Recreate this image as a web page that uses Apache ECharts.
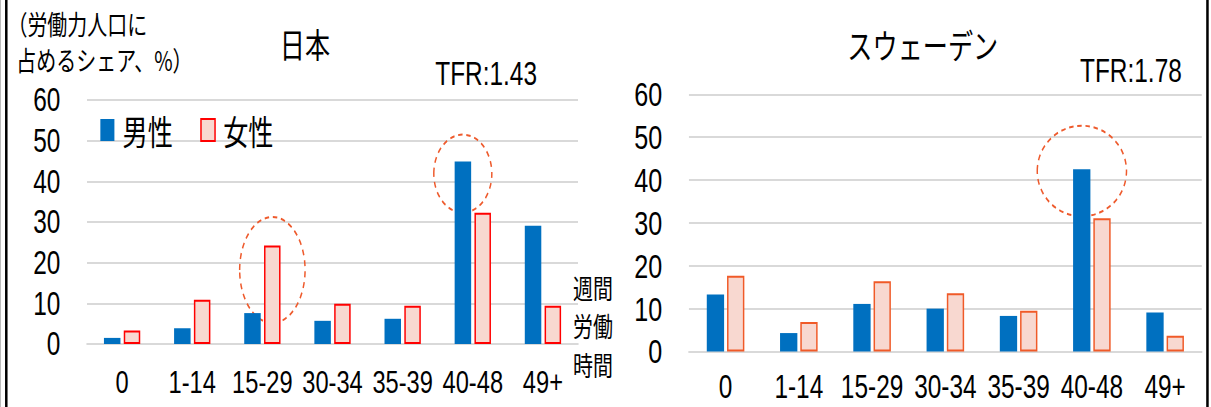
<!DOCTYPE html>
<html>
<head>
<meta charset="utf-8">
<script src="https://cdn.jsdelivr.net/npm/echarts@6/dist/echarts.min.js"></script>
<style>
html,body{margin:0;padding:0;background:#fff;overflow:hidden;width:1211px;height:407px;}
#wrap{width:1637px;height:407px;transform:scaleX(0.74);transform-origin:0 0;}
#main{width:1637px;height:407px;}
</style>
</head>
<body>
<div id="wrap"><div id="main"></div></div>
<script>
// ---- data ----
const categories = ['0', '1-14', '15-29', '30-34', '35-39', '40-48', '49+'];
const japanMen   = [1.5, 3.9, 7.6, 5.7, 6.2, 44.9, 29.1];
const japanWomen = [3.3, 10.9, 24.2, 9.9, 9.4, 32.3, 9.4];
const swedenMen   = [13.3, 4.3, 11.1, 10.0, 8.3, 42.5, 9.1];
const swedenWomen = [17.7, 6.9, 16.4, 13.6, 9.5, 31.1, 3.7];
const seriesNames = ['男性', '女性'];
const titleJapan = '日本';
const titleSweden = 'スウェーデン';
const tfrJapan = 'TFR:1.43';
const tfrSweden = 'TFR:1.78';
const yAxisTitle = ['（労働力人口に', '占めるシェア、%）'];
const xAxisTitle = '週間\n労働\n時間';
const yMin = 0, yMax = 60, yInterval = 10;

const LAT = '"Liberation Sans", Arial, "Noto Sans CJK JP", sans-serif';
const CJK = '"Noto Sans CJK JP", "Liberation Sans", sans-serif';
const BLUE = '#0070C0';
const PINK = '#F8D8D0';
const GRID_C = '#D9D9D9';

const chart = echarts.init(document.getElementById('main'), null, {renderer: 'svg', width: 1637, height: 407});

function yAx(gi, fs) {
  return {
    gridIndex: gi, type: 'value', min: yMin, max: yMax, interval: yInterval,
    axisLine: {show: false}, axisTick: {show: false},
    axisLabel: {margin: 36, fontSize: fs, color: '#000', fontFamily: LAT},
    splitLine: {lineStyle: {color: GRID_C, width: 2}}
  };
}
function xAx(gi, fs, mg) {
  return {
    gridIndex: gi, type: 'category', data: categories,
    axisLine: {lineStyle: {color: GRID_C, width: 2}}, axisTick: {show: false},
    axisLabel: {interval: 0, margin: mg, fontSize: fs, color: '#000', fontFamily: LAT}
  };
}
function txt(x, y, text, font, align, va, extra) {
  return {
    type: 'text', x: x, y: y, silent: true,
    style: Object.assign({text: text, font: font, fill: '#000', align: align, verticalAlign: va,
      textAlign: align, textVerticalAlign: va}, extra || {})
  };
}

const option = {
  animation: false,
  backgroundColor: '#fff',
  grid: [
    {left: 117.6, top: 100, width: 663.5, height: 244},
    {left: 931, top: 94.3, width: 693, height: 257.2}
  ],
  xAxis: [xAx(0, 32, 22), xAx(1, 33, 19)],
  yAxis: [yAx(0, 33), yAx(1, 34)],
  legend: {
    data: seriesNames, left: 130.6, top: 108, itemWidth: 19, itemHeight: 22, itemGap: 37,
    icon: 'rect',
    textStyle: {fontSize: 34, color: '#000', fontFamily: CJK, padding: [0, 0, 0, 6]}
  },
  series: [
    {name: seriesNames[0], type: 'bar', xAxisIndex: 0, yAxisIndex: 0, data: japanMen,
      barWidth: 22.3, barGap: '20%', itemStyle: {color: BLUE}},
    {name: seriesNames[1], type: 'bar', xAxisIndex: 0, yAxisIndex: 0, data: japanWomen,
      barWidth: 22.3, barGap: '20%', itemStyle: {color: PINK, borderColor: '#FF0000', borderWidth: 2}},
    {name: 'sw_m', type: 'bar', xAxisIndex: 1, yAxisIndex: 1, data: swedenMen,
      barWidth: 23.4, barGap: '17%', itemStyle: {color: BLUE}},
    {name: 'sw_w', type: 'bar', xAxisIndex: 1, yAxisIndex: 1, data: swedenWomen,
      barWidth: 23.4, barGap: '17%', itemStyle: {color: PINK, borderColor: '#F05A28', borderWidth: 2}}
  ]
};
chart.setOption(option);

// annotation ellipses placed through the axes
function pt(gi, catIdx, val) {
  return chart.convertToPixel({xAxisIndex: gi, yAxisIndex: gi}, [catIdx, val]);
}
const p1 = pt(0, 2, 18.2);  // Japan women 15-29
const p2 = pt(0, 5, 41.9);  // Japan men 40-48
const p3 = pt(1, 5, 42.1);  // Sweden men 40-48
const ellStyle = {fill: 'none', stroke: '#EE5A2C', lineWidth: 2, lineDash: [6, 5]};

const graphics = [
  {type: 'ellipse', silent: true, shape: {cx: p1[0] + 13.5, cy: p1[1], rx: 44.2, ry: 53}, style: ellStyle},
  {type: 'ellipse', silent: true, shape: {cx: p2[0] - 13.5, cy: p2[1], rx: 39.2, ry: 39}, style: ellStyle},
  {type: 'ellipse', silent: true, shape: {cx: p3[0] - 13.5, cy: p3[1], rx: 60.3, ry: 45.3}, style: ellStyle},
  txt(412, 43, titleJapan, '34px ' + CJK, 'center', 'middle'),
  txt(1247, 44, titleSweden, '34px ' + CJK, 'center', 'middle'),
  txt(725.7, 74, tfrJapan, '33px ' + LAT, 'right', 'middle'),
  txt(1597, 71, tfrSweden, '33px ' + LAT, 'right', 'middle'),
  txt(10, 23, yAxisTitle[0], '27px ' + CJK, 'left', 'middle'),
  txt(22, 59, yAxisTitle[1], '27px ' + CJK, 'left', 'middle'),
  txt(774.3, 325.5, xAxisTitle, '27px ' + CJK, 'left', 'middle', {lineHeight: 38.5}),
  {type: 'rect', silent: true, shape: {x: 0, y: 0, width: 1.4, height: 407}, style: {fill: '#BBBBBB'}},
  {type: 'rect', silent: true, shape: {x: 6.8, y: 0, width: 3.4, height: 407}, style: {fill: '#000'}},
  {type: 'rect', silent: true, shape: {x: 1630, y: 0, width: 3.4, height: 407}, style: {fill: '#000'}}
];
chart.setOption({graphic: graphics});
</script>
</body>
</html>
